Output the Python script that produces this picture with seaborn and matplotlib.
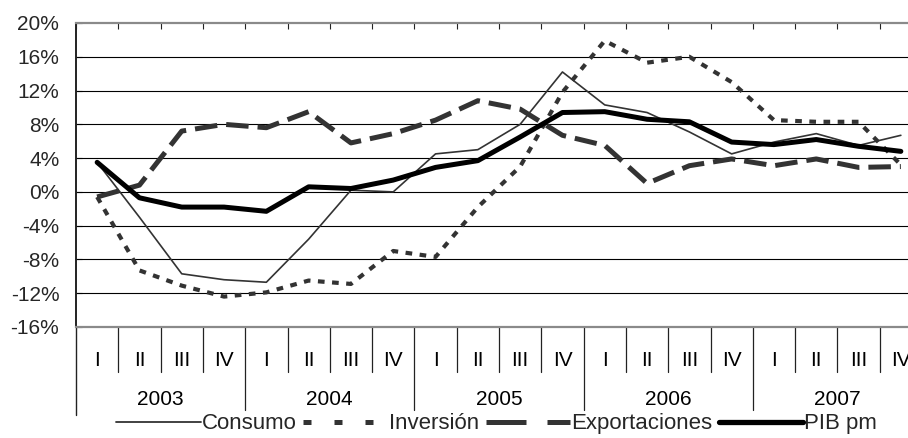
import matplotlib
matplotlib.use("Agg")
import matplotlib.pyplot as plt
from matplotlib.lines import Line2D
import seaborn as sns
import pandas as pd
import numpy as np

years = ["2003", "2004", "2005", "2006", "2007"]
quarters = ["I", "II", "III", "IV"]

consumo = [3.5, -3.0, -9.7, -10.4, -10.7, -5.6, 0.2, 0.0, 4.5, 5.0,
           8.0, 14.2, 10.3, 9.4, 7.1, 4.5, 5.9, 6.9, 5.5, 6.7]
inversion = [-0.6, -9.3, -11.1, -12.4, -11.9, -10.5, -10.9, -7.0, -7.7, -1.8,
             3.0, 11.8, 17.9, 15.3, 16.0, 13.0, 8.5, 8.3, 8.3, 3.2]
exportaciones = [-0.6, 0.8, 7.2, 8.0, 7.6, 9.5, 5.8, 6.9, 8.5, 10.8,
                 9.8, 6.7, 5.5, 1.0, 3.1, 3.9, 3.1, 3.9, 2.9, 3.0]
pib = [3.5, -0.7, -1.8, -1.8, -2.3, 0.6, 0.4, 1.4, 2.9, 3.7,
       6.5, 9.4, 9.5, 8.6, 8.3, 5.9, 5.6, 6.2, 5.4, 4.8]

series_names = ["Consumo", "Inversión", "Exportaciones", "PIB pm"]
yticks = [-16, -12, -8, -4, 0, 4, 8, 12, 16, 20]

sns.set_theme(style="white")
plt.rcParams["font.family"] = ["Liberation Sans", "DejaVu Sans"]

FS = 15
n = len(consumo)
idx = np.arange(n)
df = pd.DataFrame({
    "idx": np.tile(idx, 4),
    "value": consumo + inversion + exportaciones + pib,
    "serie": np.repeat(series_names, n),
})

fig = plt.figure(figsize=(9.08, 4.38), dpi=100)
ax = fig.add_axes([76 / 908, 1 - 327 / 438, 846 / 908, 304 / 438])

styles = {
    "Consumo": dict(color="#333333", lw=1.2, ls="-"),
    "Inversión": dict(color="#333333", lw=3.0, ls=(0, (1.6, 1.8))),
    "Exportaciones": dict(color="#333333", lw=3.6, ls=(0, (4.5, 1.8))),
    "PIB pm": dict(color="#000000", lw=3.6, ls="-"),
}
legend_styles = {
    "Consumo": dict(color="#333333", lw=1.3, ls="-"),
    "Inversión": dict(color="#333333", lw=3.6, ls=(0, (1.6, 4.6))),
    "Exportaciones": dict(color="#333333", lw=3.6, ls=(0, (8.0, 4.2))),
    "PIB pm": dict(color="#000000", lw=3.8, ls="-"),
}

for name in series_names:
    st = styles[name]
    sub = df[df["serie"] == name]
    sns.lineplot(data=sub, x="idx", y="value", ax=ax, color=st["color"],
                 linewidth=st["lw"], linestyle=st["ls"], label=name,
                 legend=False, zorder=3)
    line = ax.get_lines()[-1]
    line.set_solid_capstyle("round")
    line.set_dash_capstyle("butt")

ax.set_xlim(-0.5, n - 0.5)
ax.set_ylim(-16, 20)
ax.set_yticks(yticks)
ax.set_yticklabels([f"{v}%" for v in yticks], fontsize=FS)
ax.grid(False)
for v in yticks[1:-1]:
    ax.axhline(v, color="black", lw=0.8, zorder=1)

ax.set_xlabel("")
ax.set_ylabel("")
ax.set_xticks([])
ax.set_xticks(np.arange(n + 1) - 0.5, minor=True)
ax.tick_params(axis="x", which="minor", top=True, bottom=False,
               direction="in", length=4.5, width=0.8, color="#222222")
ax.tick_params(axis="y", which="major", left=True, direction="in",
               length=4, width=0.8, color="#222222", pad=12)

for side in ["top", "bottom"]:
    ax.spines[side].set_color("#8a8a8a")
    ax.spines[side].set_linewidth(1.6)
ax.spines["left"].set_color("#222222")
ax.spines["left"].set_linewidth(1.4)
ax.spines["right"].set_visible(False)

trans = ax.get_xaxis_transform()
ax.plot([-0.5, -0.5], [0, -0.29], transform=trans, color="#222222",
        lw=1.0, clip_on=False)
for k in range(1, n + 1):
    bottom = -0.273 if k % 4 == 0 else -0.148
    ax.plot([k - 0.5, k - 0.5], [0, bottom], transform=trans,
            color="#222222", lw=0.9, clip_on=False)
for i in range(n):
    ax.text(i, -0.109, quarters[i % 4], transform=trans, ha="center",
            va="center", fontsize=FS, color="black")
for j, yr in enumerate(years):
    ax.text(j * 4 + 1.5, -0.24, yr, transform=trans, ha="center",
            va="center", fontsize=FS, color="black")

handles = []
for name in series_names:
    st = legend_styles[name]
    h = Line2D([0], [0], color=st["color"], lw=st["lw"], ls=st["ls"])
    h.set_dash_capstyle("butt")
    handles.append(h)

fig.legend(handles=handles, labels=series_names, loc="center",
           bbox_to_anchor=(0.547, 0.032), ncol=4, frameon=False,
           fontsize=16, handlelength=3.8, handletextpad=0.05,
           columnspacing=0.3, borderaxespad=0, borderpad=0)

fig.savefig("out.png", dpi=100)
